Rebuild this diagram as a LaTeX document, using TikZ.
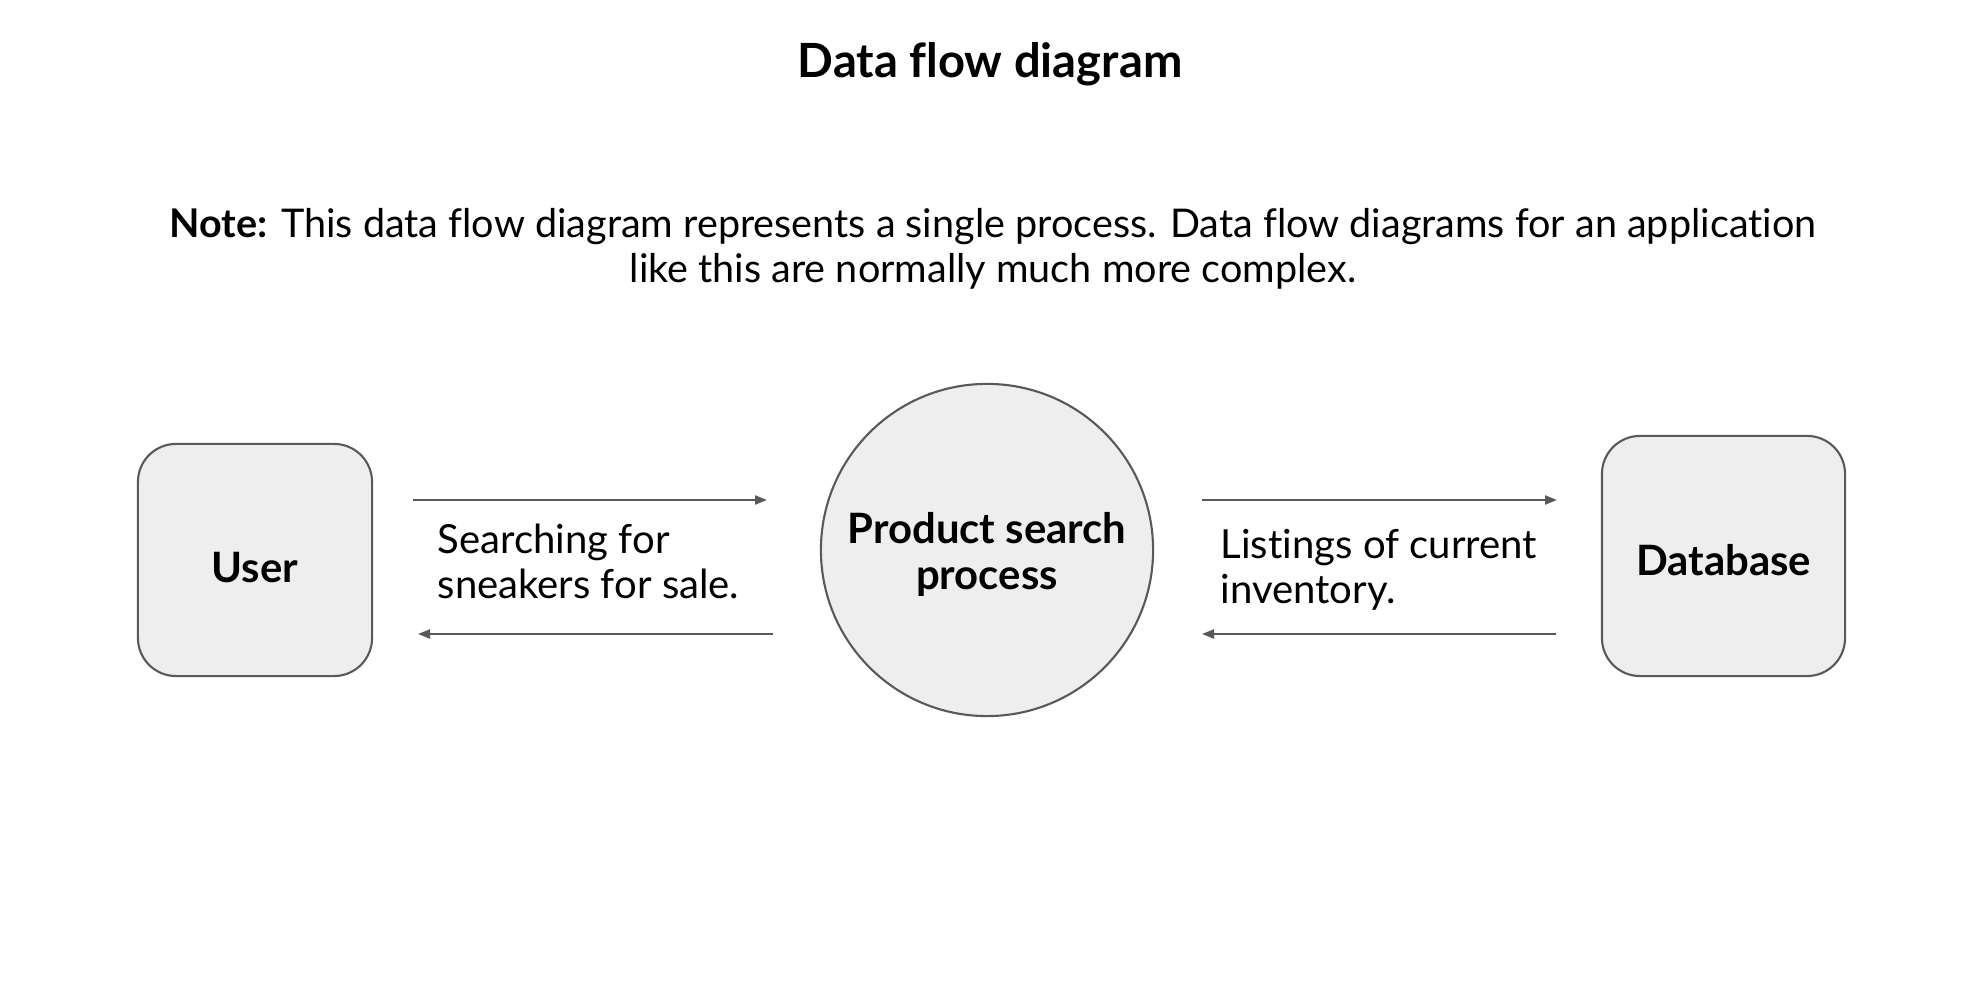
\documentclass[tikz,border=0pt]{standalone}
\usepackage{fontspec}
\setmainfont{Lato}[Ligatures=NoCommon]
\usetikzlibrary{arrows.meta}
\definecolor{linegray}{HTML}{595959}
\definecolor{fillgray}{HTML}{EEEEEE}
\newcommand{\lowerby}[2]{\raisebox{-#1}[\height][\depth]{#2}}
\tikzset{
  entity/.style={draw=linegray, fill=fillgray, line width=0.6pt, rounded corners=0.38cm, inner sep=0pt, font=\fontsize{11.9}{14}\selectfont\bfseries},
  procnode/.style={draw=linegray, fill=fillgray, line width=0.6pt, circle, inner sep=0pt, minimum size=3.32cm, align=center, font=\fontsize{11.9}{13}\selectfont\bfseries},
  flow/.style={draw=linegray, line width=0.6pt, -{Triangle[length=0.12cm, width=0.09cm]}},
  flowlabel/.style={anchor=west, align=left, inner sep=0pt, font=\fontsize{11.4}{12.8}\selectfont},
}
\begin{document}
\begin{tikzpicture}[x=0.01cm, y=-0.01cm]
\useasboundingbox[fill=white] (0,0) rectangle (1969,1007);
\node[font=\fontsize{13.4}{15}\selectfont\bfseries] (title) at (990,64) {Data flow diagram};
\node[align=center, font=\fontsize{11.25}{12.8}\selectfont, inner sep=0pt] (note) at (993,249) {\textbf{Note:} This data flow diagram represents a single process. Data flow diagrams for an application\\like this are normally much more complex.};
\node[entity, minimum width=2.34cm, minimum height=2.32cm] (user) at (255,560) {\lowerby{0.075cm}{User}};
\node[procnode] (proc) at (987,550) {\lowerby{0.075cm}{\begin{tabular}{@{}c@{}}Product search\\process\end{tabular}}};
\node[entity, minimum width=2.43cm, minimum height=2.40cm] (db) at (1723.5,556) {\lowerby{0.04cm}{Database}};
\coordinate (a1s) at (413,500); \coordinate (a1e) at (767,500);
\coordinate (a2s) at (773,634); \coordinate (a2e) at (418,634);
\coordinate (a3s) at (1202,500); \coordinate (a3e) at (1557,500);
\coordinate (a4s) at (1556,634); \coordinate (a4e) at (1202,634);
\draw[flow] (a1s) -- (a1e);
\draw[flow] (a2s) -- (a2e);
\draw[flow] (a3s) -- (a3e);
\draw[flow] (a4s) -- (a4e);
\node[flowlabel] (lab1) at (437,561) {Searching for\\sneakers for sale.};
\node[flowlabel] (lab2) at (1220,570) {Listings of current\\inventory.};
\end{tikzpicture}
\end{document}
